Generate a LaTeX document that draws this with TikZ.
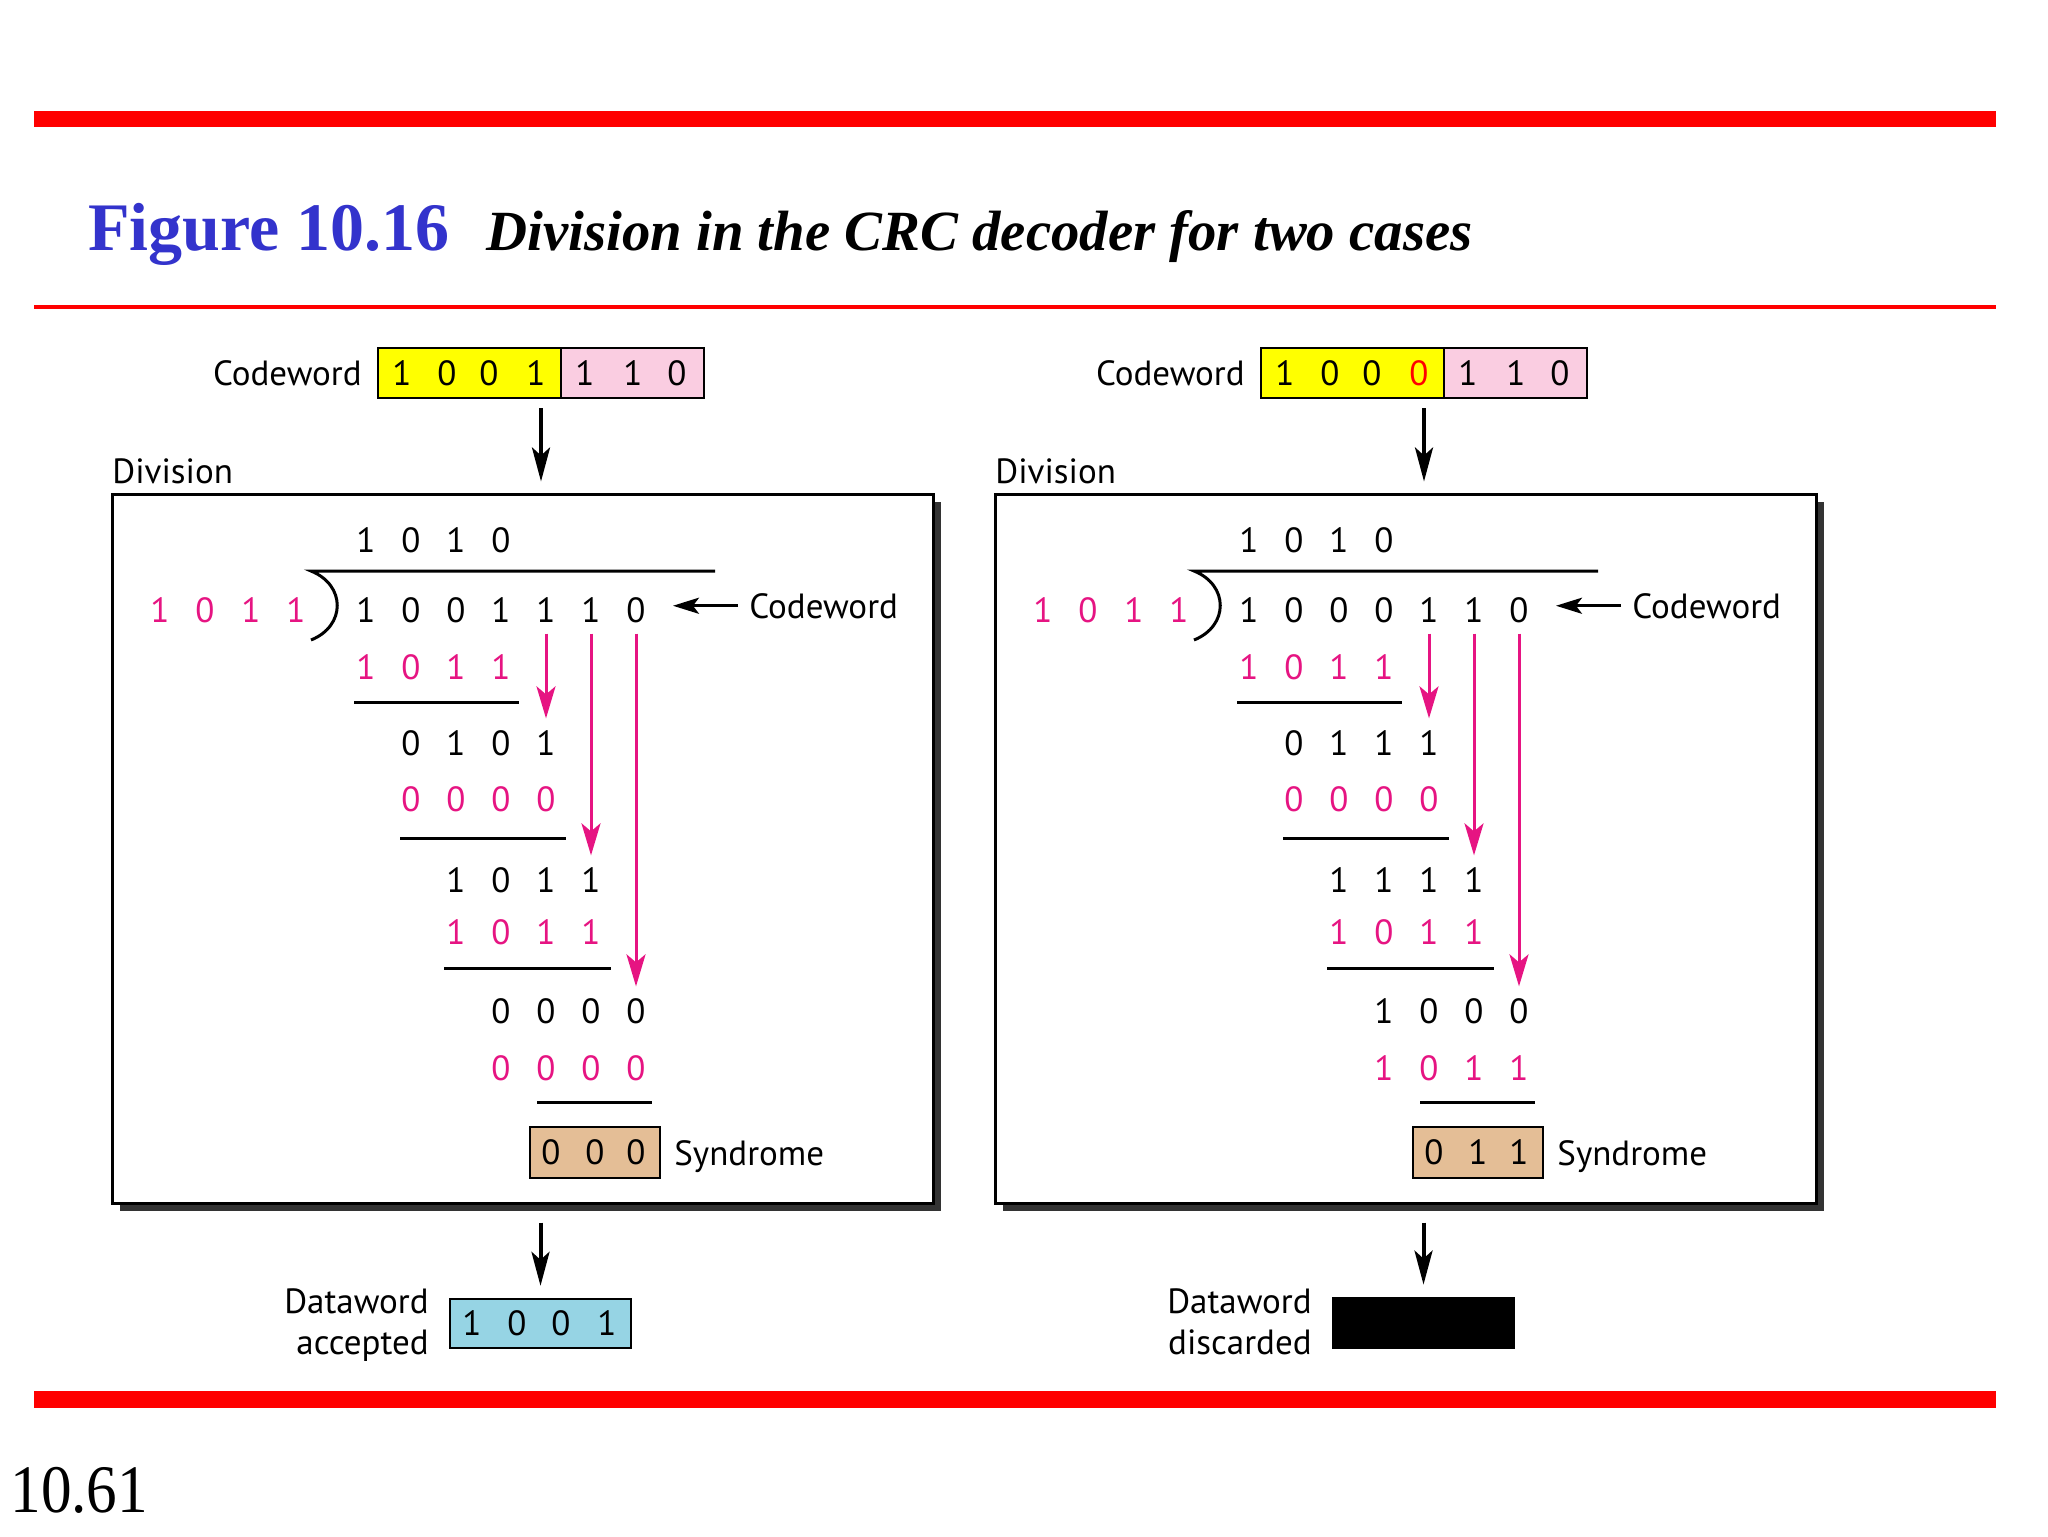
\documentclass[tikz,border=0pt]{standalone}
\usepackage{fontspec}
\usetikzlibrary{arrows.meta,shadows,calc}
\newfontfamily\sansfam{PT Sans}
\newfontfamily\timesfam{Liberation Serif}
\newcommand\dfont{\sansfam\fontsize{17.5}{21}\selectfont}
\definecolor{crcpink}{RGB}{230,20,130}
\definecolor{cwyellow}{RGB}{255,255,0}
\definecolor{cwpink}{RGB}{250,205,225}
\definecolor{syntan}{RGB}{228,190,150}
\definecolor{dwblue}{RGB}{150,212,228}
\definecolor{figblue}{RGB}{51,51,204}
\definecolor{barred}{RGB}{255,0,0}
\tikzset{
  dig/.style={inner sep=0pt, text height=12.25pt, text depth=0pt, font=\dfont},
  pdig/.style={dig, text=crcpink},
  lbl/.style={inner sep=0pt, font=\dfont},
  hline/.style={line width=1.5pt},
  cwbox/.style={draw, line width=1.2pt, minimum height=25pt, inner sep=0pt},
  divbox/.style={draw, line width=1.5pt, fill=white, inner sep=0pt,
    minimum width=410.5pt, minimum height=354.5pt,
    drop shadow={shadow xshift=4pt, shadow yshift=-4pt, fill=black!80, opacity=1}},
  parrow/.style={draw=crcpink, line width=1.5pt, -{Stealth[length=16pt,width=9.5pt,inset=4pt]},
    shorten <=5.5pt, shorten >=6pt},
  barrow/.style={line width=2pt, -{Stealth[length=17pt,width=9pt,inset=4pt]}},
  carrow/.style={line width=1.6pt, -{Stealth[length=13pt,width=8pt,inset=3pt]}},
}
\newcommand\drowc[5]{%
  \foreach \dd [count=\ii] in {#5}{%
    \pgfmathsetmacro\xx{321+45*(#4+\ii-1)}%
    \node[#3] (#1\ii) at (\xx,#2) {\dd};}}
\newcommand\panel[6]{%
  \node[divbox] (#1box) at (522.5,848.5) {};
  \node[lbl, anchor=base west] (#1divl) at (112,483) {Division};
  \drowc{#1q}{540}{dig}{1}{1,0,1,0}
  \foreach \xx/\dd [count=\ii] in {160/1,205/0,251/1,296/1}{\node[pdig] (#1v\ii) at (\xx,610) {\dd};}
  \drowc{#1d}{610}{dig}{1}{#2}
  \drowc{#1a}{667}{pdig}{1}{1,0,1,1}
  \drowc{#1b}{743}{dig}{2}{#3}
  \drowc{#1c}{799}{pdig}{2}{0,0,0,0}
  \drowc{#1e}{880}{dig}{3}{#4}
  \drowc{#1f}{932}{pdig}{3}{1,0,1,1}
  \drowc{#1g}{1011}{dig}{4}{#5}
  \drowc{#1h}{1068}{pdig}{4}{#6}
  \draw[hline] (715,571) -- (311,571) .. controls (346,585) and (346,626) .. (311,640);
  \draw[hline] (354,702) -- (519,702);
  \draw[hline] (400,838) -- (566,838);
  \draw[hline] (444,968) -- (611,968);
  \draw[hline] (537,1102) -- (652,1102);
  \draw[parrow] (#1d5.south) -- (#1b4.north);
  \draw[parrow] (#1d6.south) -- (#1e4.north);
  \draw[parrow] (#1d7.south) -- (#1g4.north);
  \node[lbl, anchor=base west] (#1cwr) at (749,618) {Codeword};
  \draw[carrow, shorten <=5.5pt, shorten >=13.5pt] (#1cwr.west) -- (#1cwr.west -| #1d7.east);
  \node[cwbox, fill=syntan, minimum width=65pt, minimum height=25.5pt] (#1syn) at (595,1152.5) {};
  \node[lbl, anchor=base west] (#1synl) at (674,1165) {Syndrome};
  \node[lbl, anchor=base east] (#1cwl) at (362,385) {Codeword};
  \node[cwbox, fill=cwyellow, minimum width=91.5pt] (#1cwY) at (469.5,373) {};
  \node[cwbox, fill=cwpink, minimum width=71.5pt] (#1cwP) at (632.5,373) {};
  \coordinate (#1cwc) at ($(#1cwY.south west)!0.5!(#1cwP.south east)$);
  \draw[barrow, shorten <=4.5pt, shorten >=5.5pt] (#1cwc) -- (#1cwc |- #1box.north);
  \node[lbl, anchor=base east] (#1dw1) at (429,1313) {Dataword};
}
\begin{document}
\begin{tikzpicture}[x=0.5pt,y=-0.5pt]
\useasboundingbox (0,0) rectangle (2048,1536);
\fill[white] (0,0) rectangle (2048,1536);
% bars
\fill[barred] (34,111) rectangle (1996,127);
\fill[barred] (34,305) rectangle (1996,309);
\fill[barred] (34,1391) rectangle (1996,1408);
% title
\node[inner sep=0pt, anchor=base west, text=figblue, font=\timesfam\bfseries\fontsize{34}{40}\selectfont] (fig) at (88,250) {Figure 10.16};
\node[inner sep=0pt, anchor=base west, font=\timesfam\bfseries\itshape\fontsize{28.4}{34}\selectfont] (title) at (486,250) {Division in the CRC decoder for two cases};
\node[inner sep=0pt, anchor=base west, font=\timesfam\fontsize{34}{40}\selectfont] (page) at (10,1512) {\scalebox{0.9}[1]{10.61}};
% left panel
\panel{L}{1,0,0,1,1,1,0}{0,1,0,1}{1,0,1,1}{0,0,0,0}{0,0,0,0}
\foreach \xx/\dd [count=\ii] in {402/1,447/0,489/0,536/1,585/1,633/1,677/0}{\node[dig] (Lcwd\ii) at (\xx,373) {\dd};}
\foreach \xx/\dd [count=\ii] in {551/0,595/0,636/0}{\node[dig] (Lsd\ii) at (\xx,1152.5) {\dd};}
\node[cwbox, fill=dwblue, minimum width=90.5pt, minimum height=24.5pt] (LdwB) at (540.5,1323.5) {};
\foreach \xx/\dd [count=\ii] in {472/1,517/0,561/0,607/1}{\node[dig] (Ldwd\ii) at (\xx,1323.5) {\dd};}
\node[lbl, anchor=base east] (Ldw2) at (429,1354) {accepted};
\draw[barrow, shorten <=9pt, shorten >=6pt] (LdwB.north |- Lbox.south) -- (LdwB.north);
% right panel
\begin{scope}[xshift=441.5pt]
\panel{R}{1,0,0,0,1,1,0}{0,1,1,1}{1,1,1,1}{1,0,0,0}{1,0,1,1}
\foreach \xx/\dd/\cc [count=\ii] in {402/1/black,447/0/black,489/0/black,536/0/red,585/1/black,633/1/black,677/0/black}{\node[dig, text=\cc] (Rcwd\ii) at (\xx,373) {\dd};}
\foreach \xx/\dd [count=\ii] in {551/0,595/1,636/1}{\node[dig] (Rsd\ii) at (\xx,1152.5) {\dd};}
\node[fill=black, inner sep=0pt, minimum width=91.5pt, minimum height=26pt] (RdwB) at (540.5,1323) {};
\node[lbl, anchor=base east] (Rdw2) at (429,1354) {discarded};
\draw[barrow, shorten <=9pt, shorten >=6pt] (RdwB.north |- Rbox.south) -- (RdwB.north);
\end{scope}
\end{tikzpicture}
\end{document}
